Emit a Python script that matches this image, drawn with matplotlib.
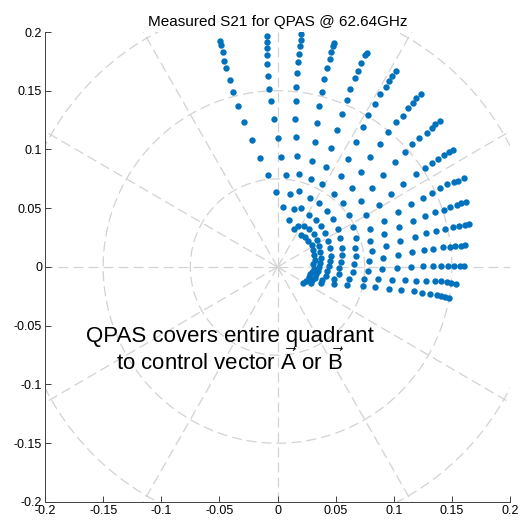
import numpy as np
import matplotlib
matplotlib.use('Agg')
import matplotlib.pyplot as plt

plt.rcParams['font.family'] = ['Liberation Sans', 'DejaVu Sans']
plt.rcParams['mathtext.fontset'] = 'custom'
plt.rcParams['mathtext.rm'] = 'Liberation Sans'
plt.rcParams['mathtext.it'] = 'Liberation Sans:italic'
plt.rcParams['axes.unicode_minus'] = False

#######################
###   Data          ###
#######################
# measured S21 states, one list per phase setting (ray), inner -> outer amplitude state
# magnitude (linear) and phase (deg)

mag_r01 = [0.035, 0.041, 0.051, 0.064, 0.079, 0.094, 0.110, 0.127, 0.141, 0.154, 0.164, 0.175, 0.181, 0.189, 0.195, 0.199]
ph_r01 = [66, 76, 85, 91.5, 96, 99, 101.5, 103, 104, 104.3, 104.4, 104.6, 104.6, 104.5, 104.4, 104.4]

mag_r02 = [0.034, 0.039, 0.051, 0.063, 0.079, 0.094, 0.110, 0.126, 0.141, 0.152, 0.163, 0.173, 0.181, 0.187, 0.192, 0.197]
ph_r02 = [53, 63, 74, 80.5, 85, 88, 90, 91.4, 92.3, 92.7, 92.8, 93, 92.8, 92.7, 92.7, 92.6]

mag_r03 = [0.035, 0.042, 0.054, 0.067, 0.081, 0.096, 0.112, 0.127, 0.142, 0.154, 0.166, 0.175, 0.182, 0.189, 0.194, 0.199]
ph_r03 = [47, 57, 68, 74, 77, 80, 81.7, 83.1, 83.5, 84.2, 84.3, 84.3, 84.3, 84.2, 84.0, 84.1]

mag_r04 = [0.034, 0.042, 0.052, 0.065, 0.080, 0.095, 0.111, 0.127, 0.142, 0.154, 0.165, 0.175, 0.183, 0.189, 0.194, 0.197]
ph_r04 = [40, 50, 59, 64.5, 69, 71.8, 73.3, 74.5, 75.3, 75.7, 75.9, 75.9, 75.8, 75.9, 75.8, 75.7]

mag_r05 = [0.035, 0.042, 0.052, 0.065, 0.080, 0.095, 0.111, 0.127, 0.141, 0.154, 0.164, 0.174, 0.181, 0.188, 0.195, 0.198]
ph_r05 = [33, 42, 51, 56.5, 61.5, 64, 65.6, 66.3, 67, 67.2, 67.5, 67.5, 67.5, 67.5, 67.4, 67.2]

mag_r06 = [0.034, 0.041, 0.051, 0.064, 0.079, 0.095, 0.110, 0.126, 0.140, 0.151, 0.162, 0.172, 0.179, 0.185, 0.190, 0.195]
ph_r06 = [25.5, 34.5, 43, 48.3, 52.2, 55, 56.6, 57.6, 58.3, 58.8, 58.8, 59, 58.7, 58.8, 58.7, 58.6]

mag_r07 = [0.033, 0.040, 0.050, 0.063, 0.078, 0.093, 0.108, 0.123, 0.137, 0.149, 0.160, 0.168, 0.176, 0.182, 0.187, 0.192]
ph_r07 = [18, 27, 35, 40.2, 44, 46.3, 48.4, 49.5, 50, 50.3, 50.5, 50.1, 50.2, 50.2, 50.4, 50.1]

mag_r08 = [0.033, 0.039, 0.049, 0.061, 0.076, 0.091, 0.105, 0.120, 0.135, 0.147, 0.156, 0.164, 0.172, 0.178, 0.182, 0.187]
ph_r08 = [11, 19.5, 27, 32, 35.7, 37.9, 39.6, 40.7, 41.5, 41.8, 42.2, 42.1, 41.7, 41.7, 41.8, 41.5]

mag_r09 = [0.031, 0.038, 0.048, 0.059, 0.073, 0.088, 0.102, 0.116, 0.129, 0.143, 0.152, 0.160, 0.166, 0.172, 0.177, 0.181]
ph_r09 = [4, 12, 19.6, 24.3, 27.8, 29.9, 31.4, 32.5, 33.2, 33.6, 33.6, 33.7, 33.6, 33.5, 33.6, 33.4]

mag_r10 = [0.031, 0.037, 0.047, 0.058, 0.072, 0.086, 0.100, 0.114, 0.127, 0.138, 0.147, 0.155, 0.162, 0.168, 0.172, 0.177]
ph_r10 = [-2.7, 5, 12, 16.5, 19.8, 21.9, 23.3, 24.4, 25, 25.3, 25.5, 25.7, 25.7, 25.4, 25.3, 25.2]

mag_r11 = [0.030, 0.036, 0.045, 0.056, 0.069, 0.083, 0.096, 0.110, 0.123, 0.134, 0.143, 0.151, 0.157, 0.163, 0.167, 0.171]
ph_r11 = [-7.8, -0.4, 6.2, 10.6, 13.7, 15.6, 17, 18, 18.6, 18.8, 19.0, 18.9, 19.0, 18.8, 18.9, 18.9]

mag_r12 = [0.029, 0.035, 0.044, 0.055, 0.068, 0.082, 0.095, 0.108, 0.121, 0.131, 0.140, 0.148, 0.155, 0.160, 0.165, 0.169]
ph_r12 = [-12.7, -5.8, 0.6, 4.7, 7.7, 9.5, 10.8, 11.8, 12.3, 12.6, 12.5, 12.7, 12.6, 12.6, 12.5, 12.6]

mag_r13 = [0.028, 0.034, 0.043, 0.053, 0.066, 0.079, 0.091, 0.104, 0.116, 0.127, 0.135, 0.143, 0.149, 0.154, 0.159, 0.162]
ph_r13 = [-17.4, -10.8, -4.8, -0.9, 1.9, 3.7, 4.9, 5.8, 6.4, 6.6, 6.5, 6.7, 6.6, 6.6, 6.5, 6.6]

mag_r14 = [0.028, 0.034, 0.042, 0.053, 0.065, 0.078, 0.090, 0.103, 0.115, 0.125, 0.134, 0.141, 0.147, 0.152, 0.157, 0.160]
ph_r14 = [-22.4, -16.1, -10.5, -6.8, -4.1, -2.5, -1.3, -0.4, 0.1, 0.3, 0.3, 0.2, 0.3, 0.3, 0.4, 0.3]

mag_r15 = [0.027, 0.032, 0.040, 0.050, 0.062, 0.075, 0.087, 0.099, 0.110, 0.120, 0.128, 0.136, 0.141, 0.146, 0.150, 0.154]
ph_r15 = [-26.8, -21, -15.6, -12.2, -9.7, -8.1, -7, -6.2, -5.7, -5.5, -5.3, -5.2, -5.0, -5.0, -5.3, -5.5]

mag_r16 = [0.026, 0.032, 0.040, 0.051, 0.062, 0.075, 0.086, 0.098, 0.108, 0.119, 0.126, 0.133, 0.139, 0.143, 0.146, 0.150]
ph_r16 = [-32.1, -25.1, -19.8, -16.6, -14.3, -12.5, -11.6, -11.1, -10.5, -10, -10.1, -10, -10, -10, -10, -10.1]

mags = [mag_r01, mag_r02, mag_r03, mag_r04, mag_r05, mag_r06, mag_r07, mag_r08,
        mag_r09, mag_r10, mag_r11, mag_r12, mag_r13, mag_r14, mag_r15, mag_r16]
phases = [ph_r01, ph_r02, ph_r03, ph_r04, ph_r05, ph_r06, ph_r07, ph_r08,
          ph_r09, ph_r10, ph_r11, ph_r12, ph_r13, ph_r14, ph_r15, ph_r16]

tick_vals = [-0.2, -0.15, -0.1, -0.05, 0, 0.05, 0.1, 0.15, 0.2]
tick_labels = ['-0.2', '-0.15', '-0.1', '-0.05', '0', '0.05', '0.1', '0.15', '0.2']

grid_radii = [0.075, 0.15, 0.225, 0.3]
spoke_angles = np.arange(0, 360, 30)

#######################
###   Plotting   ######
#######################

fig = plt.figure(figsize=(5.26, 5.23), dpi=100)
ax = fig.add_axes([0.0856, 0.0402, 0.884, 0.8986])

# polar grid (matlab polar style)
grid_col = '#d2d2d2'
t = np.linspace(0, 2 * np.pi, 400)
for r in grid_radii:
    ax.plot(r * np.cos(t), r * np.sin(t), color=grid_col, lw=0.9, ls=(0, (8, 4)), zorder=1)
for a in spoke_angles:
    a = np.deg2rad(a)
    ax.plot([0, 0.4 * np.cos(a)], [0, 0.4 * np.sin(a)], color=grid_col, lw=0.9,
            ls=(0, (8, 4)), zorder=1)

# measured states
for m, p in zip(mags, phases):
    m = np.array(m)
    p = np.deg2rad(np.array(p))
    ax.plot(m * np.cos(p), m * np.sin(p), 'o', color='#0072BD', ms=4.6, mec='none', zorder=3)

ax.set_xlim(-0.2, 0.2)
ax.set_ylim(-0.2, 0.2)
ax.set_xticks(tick_vals)
ax.set_xticklabels(tick_labels)
ax.set_yticks(tick_vals)
ax.set_yticklabels(tick_labels)
ax.spines['top'].set_visible(False)
ax.spines['right'].set_visible(False)
for s in ['left', 'bottom']:
    ax.spines[s].set_color('#404040')
    ax.spines[s].set_linewidth(0.7)
ax.tick_params(direction='in', length=4, width=0.7, colors='#404040', labelcolor='black',
               labelsize=9, pad=2)

ax.set_title('Measured S21 for QPAS @ 62.64GHz', fontsize=11, pad=4)

ax.text(-0.041, -0.071,
        'QPAS covers entire quadrant\n'
        r'to control vector $\vec{\mathrm{A}}$ or $\vec{\mathrm{B}}$',
        fontsize=16, ha='center', va='center', multialignment='center',
        linespacing=1.05, zorder=4)

plt.savefig('out.png', dpi=100)
